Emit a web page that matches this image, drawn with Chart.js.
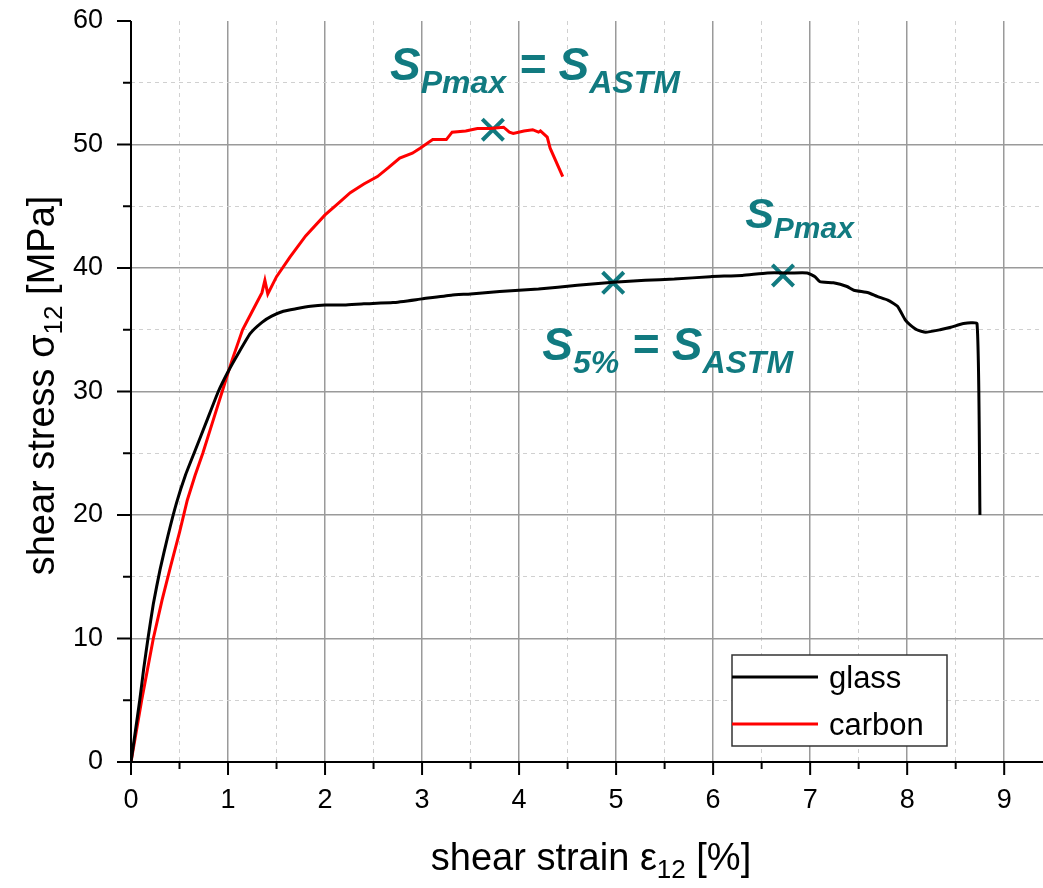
<!DOCTYPE html>
<html lang="en">
<head>
  <meta charset="UTF-8">
  <title>Shear stress-strain</title>
  <script src="https://cdn.jsdelivr.net/npm/chart.js"></script>
  <style>
    html, body { margin: 0; padding: 0; background: #fff; overflow: hidden; }
    #shearChart { display: block; }
  </style>
</head>
<body>
  <canvas id="shearChart" width="1043" height="888"></canvas>

  <script>
    // values
    const glassStrain = [0, 0.045, 0.09, 0.13, 0.175, 0.23, 0.3, 0.38, 0.47, 0.56, 0.66, 0.78, 0.9, 1.0, 1.1, 1.23, 1.35, 1.45, 1.57, 1.7, 1.85, 2.0, 2.2, 2.4, 2.7, 3.0, 3.3, 3.5, 3.8, 4.2, 4.6, 4.97, 5.3, 5.6, 5.97, 6.3, 6.56, 6.8, 6.97, 7.05, 7.1, 7.24, 7.38, 7.45, 7.6, 7.69, 7.8, 7.9, 7.98, 8.03, 8.1, 8.19, 8.34, 8.45, 8.58, 8.72, 8.75];
    const glassStress = [0, 2.5, 5, 7.5, 10, 12.8, 15.6, 18.3, 21.0, 23.2, 25.2, 27.6, 30, 31.6, 33, 34.7, 35.6, 36.1, 36.5, 36.7, 36.9, 37.0, 37.0, 37.1, 37.2, 37.5, 37.8, 37.9, 38.1, 38.3, 38.6, 38.85, 39.0, 39.1, 39.3, 39.4, 39.6, 39.6, 39.6, 39.3, 38.9, 38.8, 38.5, 38.2, 38.0, 37.7, 37.4, 36.9, 35.8, 35.4, 35.0, 34.8, 35.0, 35.2, 35.5, 35.5, 20];

    const carbonStrain = [0, 0.055, 0.11, 0.17, 0.23, 0.32, 0.41, 0.5, 0.58, 0.66, 0.74, 0.84, 0.94, 1.04, 1.15, 1.25, 1.35, 1.38, 1.41, 1.5, 1.64, 1.8, 2.0, 2.13, 2.26, 2.4, 2.54, 2.65, 2.77, 2.9, 2.98, 3.11, 3.25, 3.31, 3.45, 3.57, 3.7, 3.84, 3.9, 3.94, 4.05, 4.14, 4.2, 4.22, 4.29, 4.32, 4.45];
    const carbonStress = [0, 2.5, 5, 7.5, 10, 13.1, 15.9, 18.6, 21.2, 23.2, 25, 27.5, 30, 32.5, 35, 36.5, 38, 39, 37.9, 39.3, 40.9, 42.6, 44.3, 45.2, 46.1, 46.8, 47.4, 48.1, 48.9, 49.3, 49.7, 50.4, 50.4, 51.0, 51.1, 51.3, 51.3, 51.4, 51.0, 50.9, 51.1, 51.2, 51.0, 51.1, 50.6, 49.7, 47.4];

    const markStrain = [3.73, 4.97, 6.72];
    const markStress = [51.2, 38.8, 39.4];

    const xTicks = [0, 1, 2, 3, 4, 5, 6, 7, 8, 9];
    const yTicks = [0, 10, 20, 30, 40, 50, 60];

    const FONT = '"Liberation Sans", Arial, sans-serif';
    const TEAL = '#117a80';

    const toPoints = (xs, ys) => xs.map((v, i) => ({ x: v, y: ys[i] }));

    // draws a run of text pieces (for subscripts)
    function richText(ctx, y, parts, style) {
      let w = 0;
      parts.forEach(p => {
        ctx.font = `${style || ''} ${p.size}px ${FONT}`;
        w += ctx.measureText(p.t).width;
      });
      return {
        width: w,
        draw(startX) {
          let cx = startX;
          parts.forEach(p => {
            ctx.font = `${style || ''} ${p.size}px ${FONT}`;
            ctx.fillText(p.t, cx, y + (p.dy || 0));
            cx += ctx.measureText(p.t).width;
          });
        }
      };
    }

    const overlay = {
      id: 'overlay',
      afterDraw(chart) {
        const { ctx, chartArea: a, scales: { x, y } } = chart;
        ctx.save();

        // axis lines + tick marks
        ctx.strokeStyle = '#000';
        ctx.lineWidth = 2;
        ctx.beginPath();
        ctx.moveTo(a.left, a.top);
        ctx.lineTo(a.left, a.bottom);
        ctx.lineTo(a.right, a.bottom);
        for (let v = 0; v <= 9; v += 0.5) {
          const px = x.getPixelForValue(v);
          ctx.moveTo(px, a.bottom);
          ctx.lineTo(px, a.bottom + (Number.isInteger(v) ? 13 : 7));
        }
        for (let v = 0; v <= 60; v += 5) {
          const py = y.getPixelForValue(v);
          ctx.moveTo(a.left, py);
          ctx.lineTo(a.left - (v % 10 === 0 ? 14 : 8), py);
        }
        ctx.stroke();

        // axis titles
        ctx.fillStyle = '#000';
        ctx.textBaseline = 'alphabetic';
        const xt = richText(ctx, 870, [
          { t: 'shear strain \u03b5', size: 38 },
          { t: '12', size: 26, dy: 8 },
          { t: ' [%]', size: 38 }
        ]);
        xt.draw((a.left + a.right) / 2 - xt.width / 2 + 4);

        ctx.save();
        ctx.translate(54, (a.top + a.bottom) / 2 - 6);
        ctx.rotate(-Math.PI / 2);
        const yt = richText(ctx, 0, [
          { t: 'shear stress \u03c3', size: 38 },
          { t: '12', size: 26, dy: 8 },
          { t: ' [MPa]', size: 38 }
        ]);
        yt.draw(-yt.width / 2);
        ctx.restore();

        // annotations
        ctx.fillStyle = TEAL;
        const notes = [
          { at: [2.67, 55.2], parts: [
            { t: 'S', size: 46 }, { t: 'Pmax', size: 32, dy: 13 },
            { t: ' = ', size: 46 }, { t: 'S', size: 46 }, { t: 'ASTM', size: 32, dy: 13 }] },
          { at: [6.33, 43.2], parts: [
            { t: 'S', size: 43 }, { t: 'Pmax', size: 30, dy: 10 }] },
          { at: [4.24, 32.55], parts: [
            { t: 'S', size: 46 }, { t: '5%', size: 32, dy: 13 },
            { t: ' = ', size: 46 }, { t: 'S', size: 46 }, { t: 'ASTM', size: 32, dy: 13 }] }
        ];
        notes.forEach(n => {
          const r = richText(ctx, y.getPixelForValue(n.at[1]), n.parts, 'italic bold');
          r.draw(x.getPixelForValue(n.at[0]));
        });

        // legend box
        const lx = a.right - 311, ly = a.bottom - 107;
        ctx.fillStyle = '#fff';
        ctx.fillRect(lx, ly, 215, 91);
        ctx.strokeStyle = '#333';
        ctx.lineWidth = 1.5;
        ctx.strokeRect(lx, ly, 215, 91);
        chart.data.datasets.slice(0, 2).forEach((ds, i) => {
          const ry = ly + 22 + i * 47;
          ctx.strokeStyle = ds.borderColor;
          ctx.lineWidth = 3;
          ctx.beginPath();
          ctx.moveTo(lx, ry);
          ctx.lineTo(lx + 86, ry);
          ctx.stroke();
          ctx.fillStyle = '#000';
          ctx.font = `31px ${FONT}`;
          ctx.fillText(ds.label, lx + 97, ry + 11);
        });

        ctx.restore();
      }
    };

    const isMajorX = v => Number.isInteger(v);
    const isMajorY = v => v % 10 === 0;

    new Chart(document.getElementById('shearChart'), {
      type: 'scatter',
      data: {
        datasets: [
          {
            label: 'glass',
            data: toPoints(glassStrain, glassStress),
            showLine: true,
            borderColor: '#000000',
            borderWidth: 3,
            pointRadius: 0,
            tension: 0.15
          },
          {
            label: 'carbon',
            data: toPoints(carbonStrain, carbonStress),
            showLine: true,
            borderColor: '#ff0000',
            borderWidth: 3,
            pointRadius: 0,
            tension: 0
          },
          {
            label: 'marks',
            data: toPoints(markStrain, markStress),
            showLine: false,
            pointStyle: 'crossRot',
            pointRadius: 15,
            pointBorderWidth: 4,
            borderColor: TEAL,
            backgroundColor: TEAL
          }
        ]
      },
      options: {
        responsive: false,
        animation: false,
        layout: { autoPadding: false, padding: { top: 21, right: 0, bottom: 0, left: 0 } },
        plugins: {
          legend: { display: false },
          tooltip: { enabled: false }
        },
        scales: {
          x: {
            type: 'linear',
            min: 0,
            max: 9.4,
            afterFit: s => {
              s.height = 126;
              s.paddingLeft = 0;
              s.paddingRight = 0;
            },
            ticks: {
              stepSize: 0.5,
              includeBounds: false,
              autoSkip: false,
              maxRotation: 0,
              padding: 22,
              color: '#000',
              font: { family: FONT, size: 27 },
              callback: v => xTicks.includes(v) ? String(v) : ''
            },
            grid: {
              drawTicks: false,
              color: c => isMajorX(c.tick.value) ? '#9a9a9a' : '#d0d0d0',
              lineWidth: c => isMajorX(c.tick.value) ? 1.5 : 1
            },
            border: {
              display: false,
              dash: c => (c.tick && !isMajorX(c.tick.value)) ? [4, 4] : []
            }
          },
          y: {
            type: 'linear',
            min: 0,
            max: 60,
            afterFit: s => {
              s.width = 131;
              s.paddingTop = 0;
              s.paddingBottom = 0;
            },
            ticks: {
              stepSize: 5,
              autoSkip: false,
              padding: 28,
              color: '#000',
              font: { family: FONT, size: 27 },
              callback: v => yTicks.includes(v) ? String(v) : ''
            },
            grid: {
              drawTicks: false,
              color: c => c.tick.value === 60 ? 'rgba(0,0,0,0)' : (isMajorY(c.tick.value) ? '#9a9a9a' : '#d0d0d0'),
              lineWidth: c => isMajorY(c.tick.value) ? 1.5 : 1
            },
            border: {
              display: false,
              dash: c => (c.tick && !isMajorY(c.tick.value)) ? [4, 4] : []
            }
          }
        }
      },
      plugins: [overlay]
    });
  </script>
</body>
</html>
